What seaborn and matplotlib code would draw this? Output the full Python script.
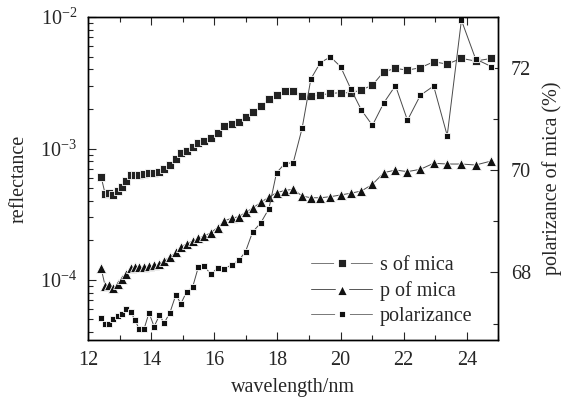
import seaborn as sns
import matplotlib.pyplot as plt
from matplotlib.lines import Line2D
from matplotlib.ticker import MultipleLocator, LogLocator, NullFormatter

# values
wavelength = [12.41, 12.54, 12.67, 12.80, 12.94, 13.07, 13.20, 13.35, 13.49, 13.62,
              13.77, 13.93, 14.09, 14.26, 14.41, 14.59, 14.78, 14.94, 15.12, 15.31,
              15.49, 15.68, 15.89, 16.10, 16.31, 16.55, 16.78, 16.99, 17.21, 17.47,
              17.73, 17.97, 18.23, 18.50, 18.78, 19.06, 19.36, 19.68, 20.00, 20.32,
              20.66, 21.01, 21.37, 21.74, 22.12, 22.53, 22.95, 23.38, 23.83, 24.28,
              24.78]

s_of_mica = [6.1e-4, 4.51e-4, 4.61e-4, 4.43e-4, 4.75e-4, 5.12e-4, 5.66e-4, 6.29e-4, 6.29e-4, 6.32e-4,
             6.40e-4, 6.48e-4, 6.55e-4, 6.63e-4, 6.95e-4, 7.49e-4, 8.28e-4, 9.19e-4, 9.62e-4, 1.032e-3,
             1.095e-3, 1.146e-3, 1.195e-3, 1.318e-3, 1.483e-3, 1.528e-3, 1.582e-3, 1.745e-3, 1.885e-3, 2.116e-3,
             2.366e-3, 2.551e-3, 2.737e-3, 2.75e-3, 2.507e-3, 2.507e-3, 2.551e-3, 2.629e-3, 2.656e-3, 2.656e-3,
             2.785e-3, 3.04e-3, 3.84e-3, 4.07e-3, 3.95e-3, 4.12e-3, 4.57e-3, 4.39e-3, 4.85e-3, 4.63e-3,
             4.85e-3]

p_of_mica = [1.227e-4, 9.0e-5, 9.16e-5, 8.65e-5, 9.33e-5, 1.012e-4, 1.111e-4, 1.227e-4, 1.249e-4, 1.249e-4,
             1.262e-4, 1.278e-4, 1.294e-4, 1.324e-4, 1.40e-4, 1.489e-4, 1.624e-4, 1.79e-4, 1.878e-4, 1.98e-4,
             2.075e-4, 2.16e-4, 2.29e-4, 2.50e-4, 2.81e-4, 2.95e-4, 3.03e-4, 3.27e-4, 3.51e-4, 3.90e-4,
             4.26e-4, 4.61e-4, 4.79e-4, 4.90e-4, 4.35e-4, 4.22e-4, 4.22e-4, 4.30e-4, 4.43e-4, 4.57e-4,
             4.75e-4, 5.34e-4, 6.55e-4, 6.86e-4, 6.67e-4, 6.95e-4, 7.72e-4, 7.62e-4, 7.62e-4, 7.49e-4,
             8.04e-4]

polarizance = [67.10, 67.00, 66.99, 67.08, 67.15, 67.19, 67.29, 67.23, 67.06, 66.89,
               66.89, 67.21, 66.94, 67.16, 67.01, 67.21, 67.56, 67.39, 67.62, 67.71,
               68.10, 68.13, 67.96, 68.09, 68.07, 68.15, 68.24, 68.41, 68.79, 68.97,
               69.25, 69.95, 70.13, 70.15, 70.82, 71.79, 72.11, 72.22, 72.03, 71.60,
               71.18, 70.88, 71.32, 71.66, 70.98, 71.47, 71.65, 70.68, 72.94, 72.18,
               72.03]

x_ticks = [12, 14, 16, 18, 20, 22, 24]
right_ticks = [68, 70, 72]
labels = ["s of mica", "p of mica", "polarizance"]

sns.set_theme(style="ticks")
plt.rcParams["font.family"] = ["Liberation Serif", "DejaVu Serif"]
plt.rcParams["mathtext.fontset"] = "stix"
plt.rcParams["font.size"] = 14

fig = plt.figure(figsize=(5.65, 4.17), dpi=100)
ax = fig.add_axes([0.156, 0.185, 0.726, 0.774])
ax2 = ax.twinx()

line_kw = dict(color="#4a4a4a", lw=0.7, estimator=None, markeredgecolor="white",
               markeredgewidth=0.6, legend=False)

sns.lineplot(x=wavelength, y=s_of_mica, ax=ax, marker="s", markersize=6.2,
             markerfacecolor="#222222", **line_kw)
sns.lineplot(x=wavelength, y=p_of_mica, ax=ax, marker="^", markersize=7.5,
             markerfacecolor="#111111", **line_kw)
sns.lineplot(x=wavelength, y=polarizance, ax=ax2, marker="s", markersize=3.8,
             markerfacecolor="#111111", **line_kw)

ax.set_yscale("log")
ax.set_xlim(12, 25)
ax.set_ylim(3.5e-5, 1e-2)
ax2.set_ylim(66.68, 73)

ax.set_xticks(x_ticks)
ax.xaxis.set_minor_locator(MultipleLocator(1))
ax.yaxis.set_major_locator(LogLocator(base=10, numticks=10))
ax.yaxis.set_minor_locator(LogLocator(base=10, subs=range(2, 10), numticks=10))
ax.yaxis.set_minor_formatter(NullFormatter())
ax2.set_yticks(right_ticks)
ax2.yaxis.set_minor_locator(MultipleLocator(1))

ax.tick_params(axis="x", which="both", direction="in", top=True, bottom=True,
               labelsize=14.5, pad=8, width=0.8)
ax.tick_params(axis="y", which="both", direction="in", left=True, right=False,
               labelsize=14.5, pad=8, width=0.8)
ax.tick_params(which="major", length=6)
ax.tick_params(which="minor", length=3.5)
ax2.tick_params(axis="y", which="both", direction="in", labelsize=14.5, pad=9, width=0.8)
ax2.tick_params(which="major", length=6)
ax2.tick_params(which="minor", length=3.5)

for a in (ax, ax2):
    for sp in a.spines.values():
        sp.set_linewidth(1.0)
        sp.set_color("black")

ax.set_xlabel("wavelength/nm", fontsize=14.5, labelpad=6)
ax.set_ylabel("reflectance", fontsize=14.5, labelpad=8)
ax2.set_ylabel("polarizance of mica (%)", fontsize=14.5, labelpad=8)

# legend keys in the "— marker —" style, with a white gap round each marker
handles = [
    Line2D([], [], color="#777777", lw=0.7, marker="s", markersize=8.5,
           markerfacecolor="#222222", markeredgecolor="white", markeredgewidth=3.5),
    Line2D([], [], color="#555555", lw=0.7, marker="^", markersize=12,
           markerfacecolor="#111111", markeredgecolor="white", markeredgewidth=3.5),
    Line2D([], [], color="#777777", lw=0.7, marker="s", markersize=6.5,
           markerfacecolor="#111111", markeredgecolor="white", markeredgewidth=3.5),
]
ax2.legend(handles, labels, loc="upper left", bbox_to_anchor=(0.5, 0.315),
           frameon=False, fontsize=14.5, handlelength=3.0, labelspacing=0.3,
           handletextpad=0.4)

fig.savefig("out.png", dpi=100)
